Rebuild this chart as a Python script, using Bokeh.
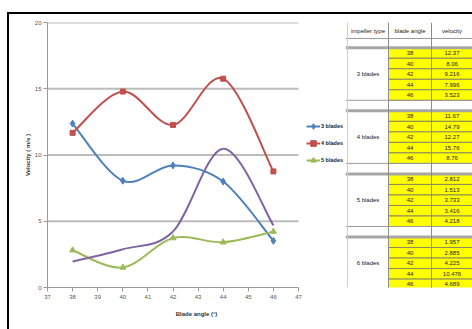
from bokeh.plotting import figure
from bokeh.layouts import row
from bokeh.models import (Range1d, Legend, LegendItem, ColumnDataSource,
                          FixedTicker)
from bokeh.embed import file_html
from bokeh.resources import INLINE
from bokeh.core.properties import value

# ---------------- data ----------------
angles = [38, 40, 42, 44, 46]
v3 = [12.37, 8.06, 9.216, 7.996, 3.523]
v4 = [11.67, 14.79, 12.27, 15.76, 8.76]
v5 = [2.812, 1.513, 3.733, 3.416, 4.218]
v6 = [1.957, 2.885, 4.225, 10.476, 4.689]
series_names = ["3 blades", "4 blades", "5 blades", "6 blades"]
x_ticks = list(range(37, 48))
y_ticks = [0, 5, 10, 15, 20]
table_headers = ["impeller type", "blade angle", "velocity"]
x_label = "Blade angle (°)"
y_label = "Velocity ( m/s )"

FONT = "Liberation Sans"
colors = ["#4F81BD", "#C0504D", "#9BBB59", "#8064A2"]
markers = ["diamond", "square", "triangle", None]
msizes = [7, 5, 6, 0]
series = [v3, v4, v5, v6]


def smooth_segments(xs, ys):
    n = len(xs)
    out = {k: [] for k in ("x0", "y0", "x1", "y1", "cx0", "cy0", "cx1", "cy1")}
    for i in range(n - 1):
        a = max(i - 1, 0)
        d = min(i + 2, n - 1)
        out["x0"].append(xs[i]); out["y0"].append(ys[i])
        out["x1"].append(xs[i + 1]); out["y1"].append(ys[i + 1])
        out["cx0"].append(xs[i] + (xs[i + 1] - xs[a]) / 6.0)
        out["cy0"].append(ys[i] + (ys[i + 1] - ys[a]) / 6.0)
        out["cx1"].append(xs[i + 1] - (xs[d] - xs[i]) / 6.0)
        out["cy1"].append(ys[i + 1] - (ys[d] - ys[i]) / 6.0)
    return out


CH_W, CH_H = 336, 315
TW = 127

# ---------------- chart ----------------
ML, MT, MB = 38, 8, 42
AXIS_PX = 251                      # pixel length of the 37..47 axis
x0_, x1_ = x_ticks[0], x_ticks[-1]
frame_w = CH_W - ML
x_end = x0_ + (x1_ - x0_) * frame_w / AXIS_PX   # room for the legend on the right

p = figure(width=CH_W, height=CH_H, x_range=Range1d(x0_, x_end),
           y_range=Range1d(y_ticks[0], y_ticks[-1]),
           output_backend="svg", toolbar_location=None,
           min_border_left=ML, min_border_right=0, min_border_top=MT,
           min_border_bottom=MB)
p.outline_line_color = None
p.background_fill_color = "white"
p.border_fill_color = "white"

p.xaxis.ticker = FixedTicker(ticks=x_ticks)
p.yaxis.ticker = FixedTicker(ticks=y_ticks)
p.xaxis.bounds = (x0_, x1_)
p.grid.visible = False

# horizontal gridlines across the 37..47 span only
gl = y_ticks[1:]
p.segment(x0=[x0_] * len(gl), y0=gl, x1=[x1_] * len(gl), y1=gl,
          line_color="#bcbcbc", line_width=2)

for ax in (p.xaxis[0], p.yaxis[0]):
    ax.axis_line_color = "#9a9a9a"
    ax.major_tick_line_color = "#9a9a9a"
    ax.major_tick_out = 4
    ax.major_tick_in = 0
    ax.minor_tick_line_color = None
    ax.major_label_text_font = FONT
    ax.major_label_text_font_size = "6px"
    ax.major_label_text_color = "#555555"
    ax.axis_label_text_font = FONT
    ax.axis_label_text_font_size = "6px"
    ax.axis_label_text_font_style = "bold"
    ax.axis_label_text_color = "#333333"

p.xaxis.axis_label = x_label
p.yaxis.axis_label = y_label
p.xaxis.major_label_standoff = 3
p.yaxis.major_label_standoff = 2
p.xaxis.axis_label_standoff = 9
p.yaxis.axis_label_standoff = 1

items = []
for name, vals, c, m, ms in zip(series_names, series, colors, markers, msizes):
    seg = ColumnDataSource(smooth_segments(angles, vals))
    br = p.bezier(x0="x0", y0="y0", x1="x1", y1="y1", cx0="cx0", cy0="cy0",
                  cx1="cx1", cy1="cy1", source=seg, line_color=c, line_width=2)
    if m is not None:
        sr = p.scatter(x=angles, y=vals, marker=m, size=ms, fill_color=c,
                       line_color=c)
        items.append(LegendItem(label=name, renderers=[br, sr]))

legend = Legend(items=items, location=(AXIS_PX + 8, 120), orientation="vertical",
                label_text_font=FONT, label_text_font_size="5.5px",
                label_text_font_style="bold", label_text_color="#222222",
                glyph_width=14, glyph_height=14, spacing=3, padding=0,
                margin=0, label_standoff=1, border_line_color=None,
                background_fill_alpha=0)
p.add_layout(legend)

# ---------------- table ----------------
TH = CH_H
t = figure(width=TW, height=TH, x_range=Range1d(0, TW), y_range=Range1d(TH, 0),
           output_backend="svg", toolbar_location=None, min_border=0,
           x_axis_location=None, y_axis_location=None)
t.grid.visible = False
t.outline_line_color = None
t.background_fill_color = "white"
t.border_fill_color = "white"

col_edges = [2, 43, 86, TW]
col_centers = [(col_edges[i] + col_edges[i + 1]) / 2 for i in range(3)]
header_h = 19
rows_top = 30
row_h = 12.5
group_h = 6 * row_h

rx, ry, rw = [], [], []
txt_x, txt_y, txt_s = [], [], []
for g, (name, vals) in enumerate(zip(series_names, series)):
    for k, (a, v) in enumerate(zip(angles, vals)):
        yc = rows_top + g * group_h + (k + 0.5) * row_h
        for ci, s in ((1, str(a)), (2, f"{v:g}")):
            rx.append(col_centers[ci]); ry.append(yc)
            rw.append(col_edges[ci + 1] - col_edges[ci])
            txt_x.append(col_centers[ci]); txt_y.append(yc); txt_s.append(s)
    txt_x.append(col_centers[0])
    txt_y.append(rows_top + g * group_h + 2.5 * row_h)
    txt_s.append(name)
for i, h in enumerate(table_headers):
    txt_x.append(col_centers[i]); txt_y.append(header_h / 2 + 1); txt_s.append(h)

t.rect(x=rx, y=ry, width=rw, height=row_h, fill_color="#FFFF00",
       line_color="#8a8a5c", line_width=1)

t.segment(x0=[0], y0=[header_h], x1=[TW], y1=[header_h], line_color="#9a9a9a",
          line_width=1)
gy = [rows_top + g * group_h for g in range(4)]
t.segment(x0=[0] * 4, y0=gy, x1=[TW] * 4, y1=gy, line_color="#a6a6a6",
          line_width=3)
by = [rows_top + g * group_h + 5 * row_h for g in range(3)]
t.segment(x0=[0] * 3, y0=by, x1=[TW] * 3, y1=by, line_color="#9a9a9a",
          line_width=1)
t.segment(x0=col_edges[:3], y0=[0] * 3, x1=col_edges[:3], y1=[TH] * 3,
          line_color=["#cfcfcf", "#8c8c8c", "#8c8c8c"], line_width=1)

t.text(x=txt_x, y=txt_y, text=txt_s, text_align="center",
       text_baseline="middle", text_font=value(FONT), text_font_size="6px",
       text_color="#222222")

layout = row(p, t, spacing=0, margin=(12, 0, 0, 7),
             styles={"border-top": "2px solid black",
                     "border-left": "2px solid black"})

open("out.html", "w").write(file_html(layout, INLINE))
